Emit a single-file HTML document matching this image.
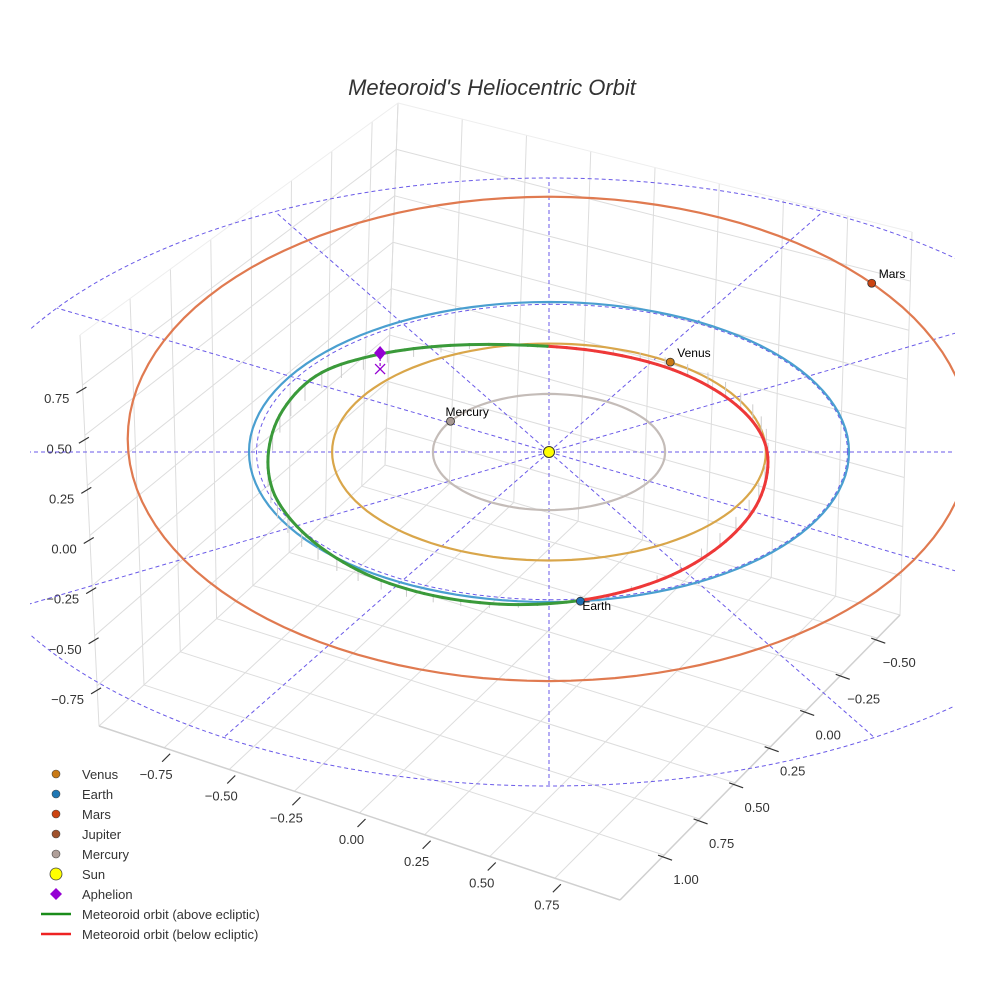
<!DOCTYPE html>
<html><head><meta charset="utf-8">
<style>
html,body{margin:0;padding:0;background:#fff;}
svg{display:block;font-family:"Liberation Sans",sans-serif;}
</style></head>
<body>
<svg id="chart" width="984" height="984" viewBox="0 0 984 984">
  <defs><clipPath id="plotclip"><rect x="30" y="60" width="925" height="880"/></clipPath></defs>
  <text x="492" y="95" text-anchor="middle" font-size="22" font-style="italic" fill="#333">Meteoroid's Heliocentric Orbit</text>
  <g id="grid"></g>
  <g id="ticks"></g>
  <g id="scene" clip-path="url(#plotclip)"></g>
  <g id="legend"></g>
</svg>
<script>
// ---- data ----
const planetNames = ["Mercury","Venus","Earth","Mars"];
const planetRadii = [0.387, 0.723, 1.0, 1.524];
const planetAngles = [148, 56, -84, 40];
const meteorX = [0.73,0.69,0.57,0.387,0.153,-0.103,-0.36,-0.593,-0.777,-0.897,-0.937,-0.897,-0.777,-0.593,-0.36,-0.103,0.153,0.387,0.57,0.69];
const meteorY = [0.061,0.291,0.489,0.631,0.695,0.703,0.664,0.565,0.40,0.129,-0.195,-0.477,-0.723,-0.904,-1.016,-1.041,-0.968,-0.797,-0.541,-0.243];
const meteorZ = [-0.12,-0.11,-0.09,-0.06,-0.02,0.01,0.04,0.07,0.1,0.11,0.12,0.11,0.09,0.06,0.04,0.02,-0.005,-0.04,-0.08,-0.11];
const aphelionXYZ = [-0.563, 0.553, 0.1];
const xTicks = [-0.75,-0.5,-0.25,0,0.25,0.5,0.75];
const yTicks = [-0.5,-0.25,0,0.25,0.5,0.75,1.0];
const zTicks = [-0.75,-0.5,-0.25,0,0.25,0.5,0.75];
const xTickLabels = ["\u22120.75","\u22120.50","\u22120.25","0.00","0.25","0.50","0.75"];
const yTickLabels = ["\u22120.50","\u22120.25","0.00","0.25","0.50","0.75","1.00"];
const zTickLabels = ["\u22120.75","\u22120.50","\u22120.25","0.00","0.25","0.50","0.75"];

const NS="http://www.w3.org/2000/svg";
function mk(tag, attrs, parent){const e=document.createElementNS(NS,tag);for(const k in attrs)e.setAttribute(k,attrs[k]);parent.appendChild(e);return e;}

// ---- projection of scene (ecliptic) ----
function proj(X,Y,Z){const r=Math.hypot(X,Y);const d=Math.max(0,r-1);
  const kx=300-45*d, ky=150+17*d, cy=452-25*d;
  return [549+X*kx, cy-Y*ky-Z*160];}

// ---- axes box (bilinear) ----
const L=[99,726],F=[620,900],R=[900,615],B=[385,465];
const Lt=[80,335],Bt=[398,103],Rt=[912,232];
const XMIN=-1,XMAX=1,YMAX=1.31,YMIN=-0.66,ZMAX=1.0,ZMIN=-0.95;
function lerp(a,b,t){return [a[0]+(b[0]-a[0])*t,a[1]+(b[1]-a[1])*t];}
function floorPt(x,y){const s=(x-XMIN)/(XMAX-XMIN),t=(YMAX-y)/(YMAX-YMIN);
  return [L[0]*(1-s)*(1-t)+F[0]*s*(1-t)+R[0]*s*t+B[0]*(1-s)*t, L[1]*(1-s)*(1-t)+F[1]*s*(1-t)+R[1]*s*t+B[1]*(1-s)*t];}
function leftWall(y,z){const t=(YMAX-y)/(YMAX-YMIN);const bot=floorPt(XMIN,y),top=lerp(Lt,Bt,t);return lerp(top,bot,(ZMAX-z)/(ZMAX-ZMIN));}
function rightWall(x,z){const s=(x-XMIN)/(XMAX-XMIN);const bot=floorPt(x,YMIN),top=lerp(Bt,Rt,s);return lerp(top,bot,(ZMAX-z)/(ZMAX-ZMIN));}
const grid=document.getElementById('grid');
function gl(a,b,col,w){return mk('line',{x1:a[0],y1:a[1],x2:b[0],y2:b[1],stroke:col||'#dddddd','stroke-width':w||1},grid);}
const xg=[-1,-0.75,-0.5,-0.25,0,0.25,0.5,0.75,1];
const yg=[1.31,1.0,0.75,0.5,0.25,0,-0.25,-0.5,-0.66];
xg.forEach(x=>{gl(floorPt(x,YMAX),floorPt(x,YMIN));gl(rightWall(x,ZMIN),rightWall(x,ZMAX));});
yg.forEach(y=>{gl(floorPt(XMIN,y),floorPt(XMAX,y));gl(leftWall(y,ZMIN),leftWall(y,ZMAX));});
zTicks.forEach(z=>{gl(leftWall(YMAX,z),leftWall(YMIN,z));gl(rightWall(XMIN,z),rightWall(XMAX,z));});
gl(Lt,Bt,'#eeeeee');gl(Bt,Rt,'#eeeeee');
gl(L,F,'#d0d0d0',1.5);gl(F,R,'#d0d0d0',1.5);

// ---- ticks ----
const tk=document.getElementById('ticks');
xTicks.forEach((x,i)=>{const p=floorPt(x,YMAX);
  mk('line',{x1:p[0]-2,y1:p[1]+14,x2:p[0]+6,y2:p[1]+6,stroke:'#333','stroke-width':1.2},tk);
  const t=mk('text',{x:p[0]-8,y:p[1]+31,'text-anchor':'middle','font-size':13,fill:'#333'},tk);t.textContent=xTickLabels[i];
  
  });
yTicks.forEach((y,i)=>{const p=floorPt(XMAX,y);
  mk('line',{x1:p[0]-6,y1:p[1],x2:p[0]+8,y2:p[1]+5,stroke:'#333','stroke-width':1.2},tk);
  const t=mk('text',{x:p[0]+22,y:p[1]+29,'text-anchor':'middle','font-size':13,fill:'#333'},tk);t.textContent=yTickLabels[i];
  
  });
zTicks.forEach((z,i)=>{const p=leftWall(YMAX,z);
  mk('line',{x1:p[0]-6,y1:p[1]+8,x2:p[0]+4,y2:p[1]+2,stroke:'#333','stroke-width':1.2},tk);
  const t=mk('text',{x:p[0]-13,y:p[1]+18,'text-anchor':'end','font-size':13,fill:'#333'},tk);t.textContent=zTickLabels[i];
  
  });

// ---- scene ----
const sc=document.getElementById('scene');
const sun=proj(0,0,0);
const OE={cx:549,cy:482,rx:600,ry:304};
mk('ellipse',{cx:OE.cx,cy:OE.cy,rx:OE.rx,ry:OE.ry,fill:'none',stroke:'#6a5ae8','stroke-width':1,'stroke-dasharray':'4,3'},sc);
for(let k=0;k<12;k++){const th=k*30*Math.PI/180;const dx=Math.cos(th)*600,dy=-Math.sin(th)*304;
  const ax=dx/OE.rx,ay=dy/OE.ry,bx=(sun[0]-OE.cx)/OE.rx,by=(sun[1]-OE.cy)/OE.ry;
  const A=ax*ax+ay*ay,Bq=2*(ax*bx+ay*by),C=bx*bx+by*by-1;const t=(-Bq+Math.sqrt(Bq*Bq-4*A*C))/(2*A);
  const ray=mk('line',{x1:sun[0],y1:sun[1],x2:sun[0]+dx*t,y2:sun[1]+dy*t,stroke:'#6a5ae8','stroke-width':1,'stroke-dasharray':'4,3'},sc);
  
  }
const orbitColors=["#c4bcb8","#d9a64a","#4a9fd0","#e07a50"];
const dotColors=["#a89a94","#c97a16","#1f6fb4","#cc4411"];
function circlePath(r,dx){let d='';for(let a=0;a<=360;a+=3){const th=a*Math.PI/180;const p=proj(r*Math.cos(th),r*Math.sin(th),0);d+=(a?'L':'M')+(p[0]+(dx||0)).toFixed(1)+','+p[1].toFixed(1);}return d+'Z';}
mk('path',{d:circlePath(0.985,3),fill:'none',stroke:'#6a5ae8','stroke-width':1,'stroke-dasharray':'4,3'},sc);
planetRadii.forEach((r,i)=>{const o=mk('path',{d:circlePath(r),fill:'none',stroke:orbitColors[i],'stroke-width':2.2},sc);
  
  });
const n=meteorX.length, samp=[];
function cr(p0,p1,p2,p3,t){const t2=t*t,t3=t2*t;return 0.5*((2*p1)+(-p0+p2)*t+(2*p0-5*p1+4*p2-p3)*t2+(-p0+3*p1-3*p2+p3)*t3);}
for(let i=0;i<n;i++){for(let s=0;s<8;s++){const t=s/8;const g=j=>(j+n)%n;const ii=[g(i-1),i,g(i+1),g(i+2)];
  samp.push([cr(...ii.map(j=>meteorX[j]),t),cr(...ii.map(j=>meteorY[j]),t),cr(...ii.map(j=>meteorZ[j]),t)]);}}
samp.push(samp[0]);
samp.forEach((q,i)=>{if(i%3||Math.abs(q[2])<0.02)return;const a=proj(q[0],q[1],q[2]),b=proj(q[0],q[1],0);
  const dl=mk('line',{x1:a[0],y1:a[1],x2:b[0],y2:b[1],stroke:'#cccccc','stroke-width':1},sc);
  
  });
for(let i=0;i<samp.length-1;i++){const a=proj(...samp[i]),b=proj(...samp[i+1]);const z=(samp[i][2]+samp[i+1][2])/2;
  const seg=mk('line',{x1:a[0],y1:a[1],x2:b[0],y2:b[1],stroke:z>=0?'#3a9a3a':'#ee3838','stroke-width':3,'stroke-linecap':'round'},sc);
  
  }
const ap=proj(...aphelionXYZ),ap0=proj(aphelionXYZ[0],aphelionXYZ[1],0);
mk('line',{x1:ap[0],y1:ap[1],x2:ap0[0],y2:ap0[1],stroke:'#9400d3','stroke-width':1.2,'stroke-dasharray':'3,2'},sc);
const apm=mk('path',{d:`M${ap[0]},${ap[1]-7}L${ap[0]+6},${ap[1]}L${ap[0]},${ap[1]+7}L${ap[0]-6},${ap[1]}Z`,fill:'#9400d3'},sc);


const apx=mk('path',{d:`M${ap0[0]-5},${ap0[1]-5}L${ap0[0]+5},${ap0[1]+5}M${ap0[0]+5},${ap0[1]-5}L${ap0[0]-5},${ap0[1]+5}`,stroke:'#9400d3','stroke-width':1.3},sc);


planetRadii.forEach((r,i)=>{const th=planetAngles[i]*Math.PI/180;const p=proj(r*Math.cos(th),r*Math.sin(th),0);
  const c=mk('circle',{cx:p[0],cy:p[1],r:4,fill:dotColors[i],stroke:'#333','stroke-width':0.8},sc);
  
  
  const below=planetNames[i]==="Earth";
  const t=mk('text',{x:p[0]+(below?2:(planetNames[i]==="Mercury"?-5:7)),y:p[1]+(below?9:-5),'font-size':12,fill:'#000'},sc);
  t.textContent=planetNames[i];
  
  });
const sm=mk('circle',{cx:sun[0],cy:sun[1],r:5.5,fill:'#ffff00',stroke:'#333','stroke-width':1},sc);



// ---- legend ----
const lg=document.getElementById('legend');
const legNames=["Venus","Earth","Mars","Jupiter","Mercury","Sun","Aphelion","Meteoroid orbit (above ecliptic)","Meteoroid orbit (below ecliptic)"];
const legColors=["#c97a16","#1f77b4","#cc4411","#a0522d","#b0a09a","#ffff00","#9400d3","#1a8c1a","#ee2222"];
legNames.forEach((nm,i)=>{const y=774+i*20;const g=mk('g',{},lg);
  
  
  if(i<5) mk('circle',{cx:56,cy:y,r:4,fill:legColors[i],stroke:'#444','stroke-width':0.6},g);
  else if(i===5) mk('circle',{cx:56,cy:y,r:6,fill:legColors[i],stroke:'#444','stroke-width':0.8},g);
  else if(i===6) mk('path',{d:`M56,${y-6}L62,${y}L56,${y+6}L50,${y}Z`,fill:legColors[i]},g);
  else mk('line',{x1:41,y1:y,x2:71,y2:y,stroke:legColors[i],'stroke-width':2.5},g);
  const t=mk('text',{x:82,y:y+5,'font-size':13,fill:'#333'},g);t.textContent=nm;});
</script>
</body></html>
